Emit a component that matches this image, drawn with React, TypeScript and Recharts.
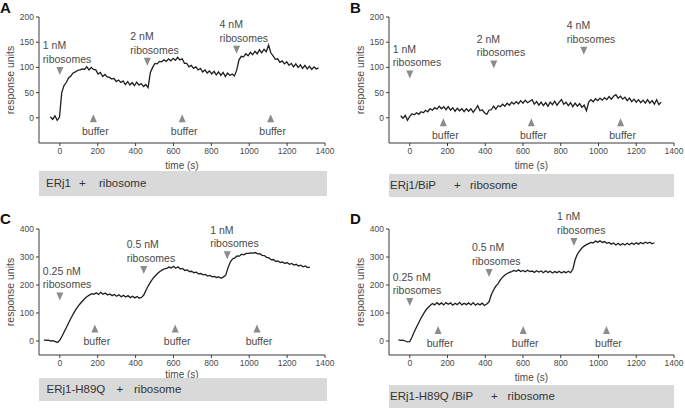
import React from 'react'
import { LineChart, Line, XAxis, YAxis, ReferenceDot } from 'recharts'

const FONT = '"Liberation Sans", Arial, Helvetica, sans-serif'
const TRACE = '#1e1e1e'
const AXIS = '#3a3a3a'
const TEXT = '#4a4a4a'
const MARK = '#8c8c8c'
const STEP = 12 // seconds between sampled points

const timeTicks = [0, 200, 400, 600, 800, 1000, 1200, 1400]
const ticksAB = [0, 50, 100, 150, 200]
const ticksCD = [0, 100, 200, 300, 400]

// A: ERj1 + ribosome
const startA = -50
const valuesA = [
  2, -3, 4, -5, 1, 50, 64, 70, 79, 83,
  89, 91, 94, 95, 97, 96, 101, 95, 100, 96,
  95, 87, 90, 82, 86, 81, 80, 77, 78, 72,
  75, 70, 73, 66, 72, 65, 70, 64, 71, 65,
  68, 62, 66, 60, 90, 100, 108, 107, 112, 111,
  115, 112, 117, 113, 118, 114, 120, 115, 117, 108,
  108, 101, 104, 98, 101, 95, 98, 91, 95, 89,
  93, 87, 92, 85, 91, 84, 90, 82, 89, 84,
  87, 83, 95, 115, 122, 121, 127, 123, 130, 125,
  132, 127, 135, 129, 136, 131, 144, 129, 123, 116,
  117, 110, 113, 107, 111, 104, 108, 101, 107, 100,
  105, 98, 104, 97, 102, 96, 101, 97, 99,
]
const injTimesA = [0, 462, 933]
const injLevelsA = [93, 111, 135]
const injLabelsA = ['1 nM', '2 nM', '4 nM']
const bufTimesA = [177, 646, 1113]
const bufLevelA = -1

// B: ERj1/BiP + ribosome
const startB = -48
const valuesB = [
  4, -1, 5, -5, 3, 8, 6, 10, 7, 12,
  10, 15, 12, 18, 15, 20, 17, 23, 18, 22,
  16, 22, 15, 20, 13, 19, 14, 18, 12, 18,
  13, 18, 11, 17, 24, 14, 16, 10, 7, 15,
  16, 23, 17, 24, 22, 27, 23, 29, 25, 31,
  27, 32, 28, 34, 29, 35, 30, 33, 36, 27,
  32, 25, 31, 24, 30, 23, 31, 26, 33, 25,
  31, 36, 27, 31, 24, 30, 22, 29, 23, 28,
  21, 25, 14, 31, 36, 32, 38, 34, 39, 35,
  40, 36, 42, 37, 43, 46, 39, 43, 37, 41,
  34, 39, 32, 37, 31, 36, 30, 35, 29, 36,
  29, 34, 27, 36, 26, 31,
]
const injTimesB = [0, 445, 922]
const injLevelsB = [86, 106, 133]
const injLabelsB = ['1 nM', '2 nM', '4 nM']
const bufTimesB = [178, 644, 1117]
const bufLevelB = -9

// C: ERj1-H89Q + ribosome
const startC = -84
const valuesC = [
  4, 2, 3, 0, 1, -2, -5, 3, 18, 34,
  50, 67, 83, 98, 112, 124, 134, 143, 152, 159,
  164, 169, 167, 172, 166, 174, 167, 171, 164, 168,
  162, 166, 160, 165, 158, 163, 157, 162, 155, 160,
  154, 159, 153, 156, 165, 183, 198, 212, 224, 233,
  241, 248, 253, 258, 259, 264, 261, 267, 260, 265,
  257, 259, 252, 254, 248, 249, 244, 246, 240, 241,
  236, 238, 232, 234, 229, 231, 227, 229, 224, 229,
  235, 262, 282, 293, 297, 304, 303, 310, 308, 313,
  313, 315, 314, 316, 311, 312, 306, 305, 299, 297,
  290, 291, 284, 286, 280, 282, 277, 280, 274, 277,
  271, 274, 268, 271, 265, 268, 262, 264,
]
const injTimesC = [0, 443, 884]
const injLevelsC = [159, 254, 306]
const injLabelsC = ['0.25 nM', '0.5 nM', '1 nM']
const bufTimesC = [185, 609, 1041]
const bufLevelC = 45

// D: ERj1-H89Q /BiP + ribosome
const startD = -60
const valuesD = [
  4, 2, 3, 0, -3, -2, 14, 33, 50, 66,
  82, 96, 109, 119, 127, 134, 129, 137, 130, 136,
  129, 137, 131, 136, 128, 135, 130, 138, 129, 135,
  130, 136, 129, 137, 128, 134, 129, 135, 127, 132,
  140, 165, 182, 196, 205, 218, 228, 236, 241, 245,
  248, 252, 249, 254, 248, 252, 247, 253, 248, 250,
  245, 251, 246, 250, 244, 251, 245, 249, 243, 248,
  244, 249, 243, 248, 244, 249, 244, 256, 290, 310,
  322, 332, 339, 344, 348, 352, 350, 357, 353, 358,
  352, 355, 349, 352, 346, 350, 343, 349, 342, 348,
  343, 349, 344, 350, 345, 351, 346, 352, 347, 353,
  349, 353, 347, 351,
]
const injTimesD = [0, 420, 870]
const injLevelsD = [139, 243, 354]
const injLabelsD = ['0.25 nM', '0.5 nM', '1 nM']
const bufTimesD = [150, 601, 1042]
const bufLevelD = 39

const toRows = (start: number, values: number[]) =>
  values.map((v, i) => ({ t: start + i * STEP, v }))

function DownMark({ cx, cy, label }: { cx: number; cy: number; label: string }) {
  return (
    <g>
      <text x={cx - 17} y={cy - 25.5} fill={TEXT} fontSize={10.5} dominantBaseline="central">{label}</text>
      <text x={cx - 17} y={cy - 12} fill={TEXT} fontSize={10.5} dominantBaseline="central">ribosomes</text>
      <polygon points={`${cx - 3.5},${cy - 4} ${cx + 3.5},${cy - 4} ${cx},${cy + 4}`} fill={MARK} />
    </g>
  )
}

function UpMark({ cx, cy }: { cx: number; cy: number }) {
  return (
    <g>
      <polygon points={`${cx - 3.5},${cy + 4} ${cx + 3.5},${cy + 4} ${cx},${cy - 4}`} fill={MARK} />
      <text x={cx + 2} y={cy + 12.5} fill={TEXT} fontSize={10.5} textAnchor="middle" dominantBaseline="central">buffer</text>
    </g>
  )
}

function YLabel({ viewBox }: any) {
  const cx = viewBox.x + 10
  const cy = viewBox.y + viewBox.height / 2
  return (
    <text x={cx} y={cy} transform={`rotate(-90 ${cx} ${cy})`} textAnchor="middle" dominantBaseline="central" fill={TEXT} fontSize={10.5}>
      response units
    </text>
  )
}

function XLabel({ viewBox, dy }: any) {
  return (
    <text x={viewBox.x + viewBox.width / 2} y={viewBox.y + dy} textAnchor="middle" fill={TEXT} fontSize={10}>
      time (s)
    </text>
  )
}

interface PanelProps {
  left: number
  top: number
  width: number
  height: number
  marginTop: number
  marginRight: number
  start: number
  values: number[]
  yDomain: [number, number]
  yTicks: number[]
  injTimes: number[]
  injLevels: number[]
  injLabels: string[]
  bufTimes: number[]
  bufLevel: number
  xLabelDy: number
}

function Panel(p: PanelProps) {
  const rows = toRows(p.start, p.values)
  return (
    <div style={{ position: 'absolute', left: p.left, top: p.top }}>
      <LineChart
        width={p.width}
        height={p.height}
        data={rows}
        margin={{ top: p.marginTop, right: p.marginRight, left: 0, bottom: 0 }}
      >
        <XAxis
          dataKey="t"
          type="number"
          domain={[-110, 1400]}
          allowDataOverflow
          ticks={timeTicks}
          interval={0}
          height={32}
          tickSize={3}
          axisLine={{ stroke: AXIS }}
          tickLine={{ stroke: AXIS }}
          tick={{ fontSize: 8.5, fill: TEXT }}
          label={<XLabel dy={p.xLabelDy} />}
        />
        <YAxis
          type="number"
          domain={p.yDomain}
          allowDataOverflow
          ticks={p.yTicks}
          interval={0}
          width={39}
          tickSize={3}
          axisLine={{ stroke: AXIS }}
          tickLine={{ stroke: AXIS }}
          tick={{ fontSize: 8.5, fill: TEXT }}
          label={<YLabel />}
        />
        <Line type="linear" dataKey="v" stroke={TRACE} strokeWidth={1.3} dot={false} isAnimationActive={false} />
        {p.injTimes.map((t, i) => (
          <ReferenceDot
            key={'inj' + i}
            x={t}
            y={p.injLevels[i]}
            shape={(s: any) => <DownMark cx={s.cx} cy={s.cy} label={p.injLabels[i]} />}
          />
        ))}
        {p.bufTimes.map((t, i) => (
          <ReferenceDot key={'buf' + i} x={t} y={p.bufLevel} shape={(s: any) => <UpMark cx={s.cx} cy={s.cy} />} />
        ))}
      </LineChart>
    </div>
  )
}

function Letter({ left, top, children }: { left: number; top: number; children: string }) {
  return (
    <div style={{ position: 'absolute', left, top, fontSize: 15, fontWeight: 'bold', lineHeight: '15px', color: '#111' }}>
      {children}
    </div>
  )
}

function Caption({ left, top, width, height, parts, offsets }: { left: number; top: number; width: number; height: number; parts: string[]; offsets: number[] }) {
  return (
    <div style={{ position: 'absolute', left, top, width, height, background: '#d9d9d9' }}>
      {parts.map((s, i) => (
        <span
          key={i}
          style={{ position: 'absolute', left: offsets[i], top: 0, lineHeight: height + 'px', fontSize: 11.5, color: '#333', whiteSpace: 'pre' }}
        >
          {s}
        </span>
      ))}
    </div>
  )
}

export default function App() {
  return (
    <div style={{ position: 'absolute', left: 0, top: 0, width: 685, height: 408, background: '#fff', fontFamily: FONT, overflow: 'hidden' }}>
      <Panel left={0} top={0} width={340} height={175} marginTop={17} marginRight={15}
        start={startA} values={valuesA} yDomain={[-50, 200]} yTicks={ticksAB}
        injTimes={injTimesA} injLevels={injLevelsA} injLabels={injLabelsA}
        bufTimes={bufTimesA} bufLevel={bufLevelA} xLabelDy={25.5} />
      <Panel left={350} top={0} width={335} height={175} marginTop={17} marginRight={11}
        start={startB} values={valuesB} yDomain={[-50, 200]} yTicks={ticksAB}
        injTimes={injTimesB} injLevels={injLevelsB} injLabels={injLabelsB}
        bufTimes={bufTimesB} bufLevel={bufLevelB} xLabelDy={25.5} />
      <Panel left={0} top={200} width={340} height={187} marginTop={29} marginRight={15}
        start={startC} values={valuesC} yDomain={[-50, 400]} yTicks={ticksCD}
        injTimes={injTimesC} injLevels={injLevelsC} injLabels={injLabelsC}
        bufTimes={bufTimesC} bufLevel={bufLevelC} xLabelDy={22.5} />
      <Panel left={350} top={200} width={335} height={187} marginTop={29} marginRight={11}
        start={startD} values={valuesD} yDomain={[-50, 400]} yTicks={ticksCD}
        injTimes={injTimesD} injLevels={injLevelsD} injLabels={injLabelsD}
        bufTimes={bufTimesD} bufLevel={bufLevelD} xLabelDy={25.5} />

      <Letter left={0} top={0}>A</Letter>
      <Letter left={350} top={0}>B</Letter>
      <Letter left={0} top={211}>C</Letter>
      <Letter left={350} top={211}>D</Letter>

      <Caption left={39} top={171} width={288} height={25} parts={['ERj1', '+', 'ribosome']} offsets={[7, 40, 60]} />
      <Caption left={389} top={174} width={285} height={23} parts={['ERj1/BiP', '+', 'ribosome']} offsets={[1, 65, 81]} />
      <Caption left={39} top={378} width={288} height={23} parts={['ERj1-H89Q', '+', 'ribosome']} offsets={[7.5, 77.5, 95]} />
      <Caption left={389} top={385} width={285} height={23} parts={['ERj1-H89Q /BiP', '+', 'ribosome']} offsets={[1, 102, 118.5]} />
    </div>
  )
}
